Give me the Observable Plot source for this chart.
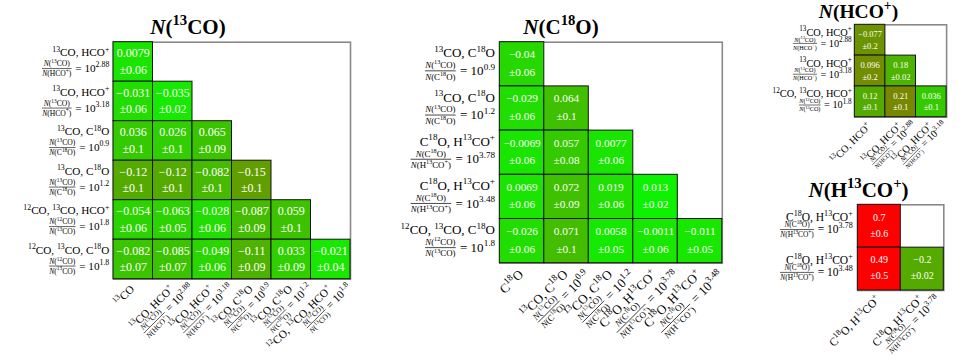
<!DOCTYPE html>
<html><head><meta charset="utf-8">
<script src="https://cdn.jsdelivr.net/npm/d3@7"></script>
<script src="https://cdn.jsdelivr.net/npm/@observablehq/plot@0.6"></script>
<style>
body{margin:0;background:#fff;}
#chart{position:relative;width:972px;height:360px;overflow:hidden;background:#fff;}
#chart svg{position:absolute;left:0;top:0;}
#chart text{white-space:pre;}
</style></head><body><div id="chart"></div>
<script>
// ---------------- DATA ----------------
// label = [line-1 name, fraction numerator, fraction denominator, exponent of 10]
// Panel 1 : N(13CO)
const p1Title = "N(^{13}CO)";
const p1RowLabels = [
  ["^{13}CO, HCO^{+}", "N(^{13}CO)", "N(HCO^{+})", "2.88"],
  ["^{13}CO, HCO^{+}", "N(^{13}CO)", "N(HCO^{+})", "3.18"],
  ["^{13}CO, C^{18}O", "N(^{13}CO)", "N(C^{18}O)", "0.9"],
  ["^{13}CO, C^{18}O", "N(^{13}CO)", "N(C^{18}O)", "1.2"],
  ["^{12}CO, ^{13}CO, HCO^{+}", "N(^{12}CO)", "N(^{13}CO)", "1.8"],
  ["^{12}CO, ^{13}CO, C^{18}O", "N(^{12}CO)", "N(^{13}CO)", "1.8"]
];
const p1ColLabels = [
  ["^{13}CO"],
  ["^{13}CO, HCO^{+}", "N(^{13}CO)", "N(HCO^{+})", "2.88"],
  ["^{13}CO, HCO^{+}", "N(^{13}CO)", "N(HCO^{+})", "3.18"],
  ["^{13}CO, C^{18}O", "N(^{13}CO)", "N(C^{18}O)", "0.9"],
  ["^{13}CO, C^{18}O", "N(^{13}CO)", "N(C^{18}O)", "1.2"],
  ["^{12}CO, ^{13}CO, HCO^{+}", "N(^{12}CO)", "N(^{13}CO)", "1.8"]
];
const p1Values = [
  [0.0079],
  [-0.031, -0.035],
  [0.036, 0.026, 0.065],
  [-0.12, -0.12, -0.082, -0.15],
  [-0.054, -0.063, -0.028, -0.087, 0.059],
  [-0.082, -0.085, -0.049, -0.11, 0.033, -0.021]
];
const p1Errors = [
  [0.06],
  [0.06, 0.02],
  [0.1, 0.1, 0.09],
  [0.1, 0.1, 0.1, 0.1],
  [0.06, 0.05, 0.06, 0.09, 0.1],
  [0.07, 0.07, 0.06, 0.09, 0.09, 0.04]
];

// Panel 2 : N(C18O)
const p2Title = "N(C^{18}O)";
const p2RowLabels = [
  ["^{13}CO, C^{18}O", "N(^{13}CO)", "N(C^{18}O)", "0.9"],
  ["^{13}CO, C^{18}O", "N(^{13}CO)", "N(C^{18}O)", "1.2"],
  ["C^{18}O, H^{13}CO^{+}", "N(C^{18}O)", "N(H^{13}CO^{+})", "3.78"],
  ["C^{18}O, H^{13}CO^{+}", "N(C^{18}O)", "N(H^{13}CO^{+})", "3.48"],
  ["^{12}CO, ^{13}CO, C^{18}O", "N(^{12}CO)", "N(^{13}CO)", "1.8"]
];
const p2ColLabels = [
  ["C^{18}O"],
  ["^{13}CO, C^{18}O", "N(^{13}CO)", "N(C^{18}O)", "0.9"],
  ["^{13}CO, C^{18}O", "N(^{13}CO)", "N(C^{18}O)", "1.2"],
  ["C^{18}O, H^{13}CO^{+}", "N(C^{18}O)", "N(H^{13}CO^{+})", "3.78"],
  ["C^{18}O, H^{13}CO^{+}", "N(C^{18}O)", "N(H^{13}CO^{+})", "3.48"]
];
const p2Values = [
  [-0.04],
  [-0.029, 0.064],
  [-0.0069, 0.057, 0.0077],
  [0.0069, 0.072, 0.019, 0.013],
  [-0.026, 0.071, 0.0058, -0.0011, -0.011]
];
const p2Errors = [
  [0.06],
  [0.06, 0.1],
  [0.06, 0.08, 0.06],
  [0.06, 0.09, 0.06, 0.02],
  [0.06, 0.1, 0.05, 0.06, 0.05]
];

// Panel 3 : N(HCO+)
const p3Title = "N(HCO^{+})";
const p3RowLabels = [
  ["^{13}CO, HCO^{+}", "N(^{13}CO)", "N(HCO^{+})", "2.88"],
  ["^{13}CO, HCO^{+}", "N(^{13}CO)", "N(HCO^{+})", "3.18"],
  ["^{12}CO, ^{13}CO, HCO^{+}", "N(^{12}CO)", "N(^{13}CO)", "1.8"]
];
const p3ColLabels = [
  ["^{13}CO, HCO^{+}"],
  ["^{13}CO, HCO^{+}", "N(^{13}CO)", "N(HCO^{+})", "2.88"],
  ["^{13}CO, HCO^{+}", "N(^{13}CO)", "N(HCO^{+})", "3.18"]
];
const p3Values = [
  [-0.077],
  [0.096, 0.18],
  [0.12, 0.21, 0.036]
];
const p3Errors = [
  [0.2],
  [0.2, 0.02],
  [0.1, 0.1, 0.1]
];

// Panel 4 : N(H13CO+)
const p4Title = "N(H^{13}CO^{+})";
const p4RowLabels = [
  ["C^{18}O, H^{13}CO^{+}", "N(C^{18}O)", "N(H^{13}CO^{+})", "3.78"],
  ["C^{18}O, H^{13}CO^{+}", "N(C^{18}O)", "N(H^{13}CO^{+})", "3.48"]
];
const p4ColLabels = [
  ["C^{18}O, H^{13}CO^{+}"],
  ["C^{18}O, H^{13}CO^{+}", "N(C^{18}O)", "N(H^{13}CO^{+})", "3.78"]
];
const p4Values = [
  [0.7],
  [0.49, -0.2]
];
const p4Errors = [
  [0.6],
  [0.5, 0.02]
];

// ---------------- RENDERING ----------------
const FONT = "Liberation Serif, DejaVu Serif, serif";
const W = 972, H = 360;
const container = document.getElementById("chart");

function parseMarkup(s) {
  const segs = [];
  let i = 0, buf = "";
  const flush = () => {
    if (!buf) return;
    const parts = buf.split(/(N(?=\())/);
    parts.forEach(p => { if (p === "") return; segs.push({t: p, it: p === "N"}); });
    buf = "";
  };
  while (i < s.length) {
    if (s[i] === "^" && s[i + 1] === "{") {
      flush();
      const j = s.indexOf("}", i);
      segs.push({t: s.slice(i + 2, j), sup: true});
      i = j + 1;
    } else { buf += s[i]; i++; }
  }
  flush();
  return segs;
}

function rich(sel, markup, f) {
  const text = sel.append("text")
    .attr("font-size", f).attr("font-family", FONT).attr("fill", "#000")
    .attr("text-anchor", "start");
  let shift = 0;
  for (const seg of parseMarkup(markup)) {
    const ts = text.append("tspan").text(seg.t);
    const target = seg.sup ? -0.42 * f : 0;
    if (target !== shift) ts.attr("dy", target - shift);
    shift = target;
    if (seg.sup) ts.attr("font-size", 0.7 * f);
    if (seg.it) ts.attr("font-style", "italic");
  }
  return text;
}
const len = t => t.node().getComputedTextLength();

// Both lines right-aligned; line 2 ends at x = end2 (0 for y labels, shifted for x labels)
function drawLabel(g, lab, f, fs, end2, yA, yB) {
  const t1 = rich(g, lab[0], f);
  const w1 = len(t1);
  t1.attr("x", -w1).attr("y", yA);
  if (lab.length < 2) return;
  const s = fs * f;
  const tn = rich(g, lab[1], s), td = rich(g, lab[2], s);
  const tr = rich(g, "= 10^{" + lab[3] + "}", f);
  const wn = len(tn), wd = len(td), wr = len(tr);
  const fracW = Math.max(wn, wd) + 0.2 * f;
  const pad = 0.25 * f;
  const w2 = fracW + pad + wr;
  const xs = end2 - w2;
  const barY = yB - 0.32 * f;
  const cx = xs + fracW / 2;
  tn.attr("x", cx - wn / 2).attr("y", barY - 0.3 * s);
  td.attr("x", cx - wd / 2).attr("y", barY + 1.0 * s);
  g.append("line").attr("x1", xs + 0.08 * f).attr("x2", xs + fracW - 0.08 * f)
    .attr("y1", barY).attr("y2", barY).attr("stroke", "#000").attr("stroke-width", Math.max(0.5, 0.055 * f));
  tr.attr("x", xs + fracW + pad).attr("y", yB);
}

const fmt = v => (v < 0 ? "\u2212" : "") + Math.abs(v);
const fmtE = e => "\u00b1" + e;

function panel(c) {
  const data = [];
  c.values.forEach((r, i) => r.forEach((v, j) => data.push({row: i, col: j, v, e: c.errors[i][j]})));
  const svg = Plot.plot({
    width: W, height: H,
    marginLeft: c.x0, marginRight: W - c.x1, marginTop: c.y0, marginBottom: H - c.y1,
    style: {background: "transparent", overflow: "visible"},
    x: {type: "band", domain: d3.range(c.cols.length), padding: 0, round: false, axis: null},
    y: {type: "band", domain: d3.range(c.rows.length), padding: 0, round: false, axis: null},
    color: {type: "linear", domain: [0, 0.66], range: ["#00ff00", "#ff0000"], interpolate: "rgb", clamp: true},
    marks: [
      Plot.frame({stroke: "#8a8a8a", strokeWidth: 1.6}),
      Plot.cell(data, {x: "col", y: "row", fill: d => Math.abs(d.v) + d.e, stroke: "#151515", strokeWidth: 1, inset: 0}),
      Plot.text(data, {x: "col", y: "row", text: d => fmt(d.v), dy: c.dv, fill: "white", fontSize: c.cellFont, fontFamily: FONT}),
      Plot.text(data, {x: "col", y: "row", text: d => fmtE(d.e), dy: c.de, fill: "white", fontSize: c.cellFont, fontFamily: FONT})
    ]
  });
  container.append(svg);
  const xs = svg.scale("x"), ys = svg.scale("y");
  const g = d3.select(svg).append("g").attr("text-anchor", "start");
  // title
  rich(g, c.title, c.titleFont).attr("text-anchor", "middle").attr("font-weight", "bold")
    .attr("x", c.tx).attr("y", c.ty);
  // y labels
  c.rows.forEach((lab, i) => {
    const cy = ys.apply(i) + ys.bandwidth / 2;
    const lg = g.append("g").attr("transform", `translate(${c.x0 - c.pad},${cy})`);
    drawLabel(lg, lab, c.labFont, c.fs, 0, c.l1, c.l2);
  });
  // x labels (rotated)
  c.cols.forEach((lab, j) => {
    const cx = xs.apply(j) + xs.bandwidth / 2;
    const lg = g.append("g").attr("transform", `translate(${cx},${c.y1 + c.xa}) rotate(-45)`);
    drawLabel(lg, lab, c.labFont, c.fs, c.xshift, c.xb, c.xb + c.xgap);
  });
}

panel({title: p1Title, rows: p1RowLabels, cols: p1ColLabels, values: p1Values, errors: p1Errors,
  x0: 113, x1: 350, y0: 41.7, y1: 278.7, cellFont: 12, dv: -8.3, de: 8,
  labFont: 11.2, fs: 0.68, l1: -5, l2: 10.7, pad: 3.7, xa: 9, xb: 3, xgap: 12.6, xshift: 15,
  titleFont: 21, tx: 188, ty: 34.3});
panel({title: p2Title, rows: p2RowLabels, cols: p2ColLabels, values: p2Values, errors: p2Errors,
  x0: 499.3, x1: 721.8, y0: 41.7, y1: 262.7, cellFont: 11.3, dv: -9.8, de: 7.9,
  labFont: 13, fs: 0.68, l1: -6.5, l2: 11.2, pad: 4.3, xa: 10, xb: 3.5, xgap: 16, xshift: 15,
  titleFont: 21, tx: 561, ty: 34.3});
panel({title: p3Title, rows: p3RowLabels, cols: p3ColLabels, values: p3Values, errors: p3Errors,
  x0: 854.3, x1: 946.1, y0: 24.3, y1: 116.7, cellFont: 8.5, dv: -5.5, de: 5.8,
  labFont: 10.3, fs: 0.6, l1: -4, l2: 7, pad: 2.6, xa: 8, xb: 3, xgap: 9, xshift: 11,
  titleFont: 19.5, tx: 858.5, ty: 18.2});
panel({title: p4Title, rows: p4RowLabels, cols: p4ColLabels, values: p4Values, errors: p4Errors,
  x0: 857.3, x1: 943.3, y0: 204.3, y1: 290, cellFont: 10, dv: -8.8, de: 7.2,
  labFont: 11.5, fs: 0.64, l1: -5, l2: 7.5, pad: 4.6, xa: 8, xb: 3, xgap: 11.7, xshift: 11.7,
  titleFont: 21, tx: 858.5, ty: 196.7});
</script></body></html>
